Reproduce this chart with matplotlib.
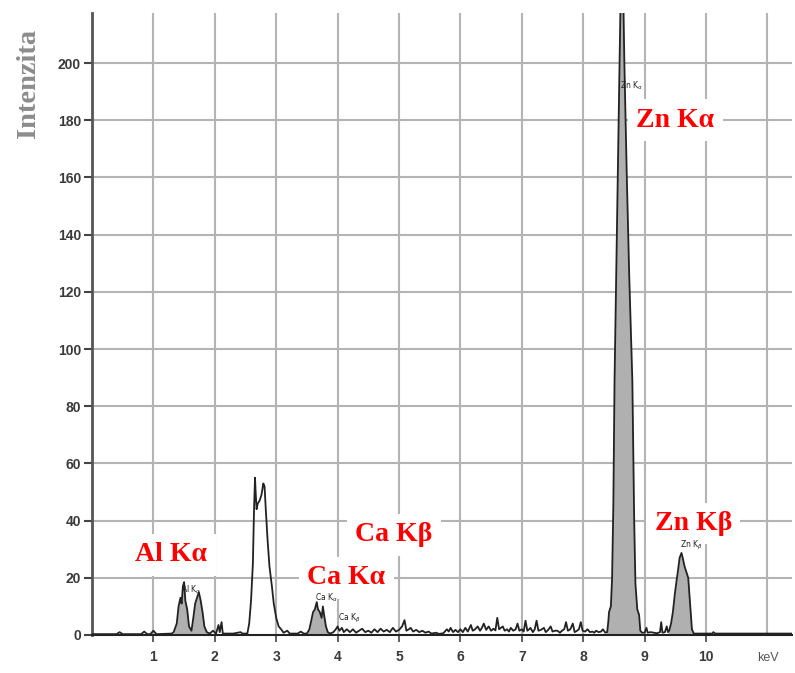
import matplotlib
matplotlib.use("Agg")
import matplotlib.pyplot as plt
import numpy as np

# EDS spectrum, energy (keV) vs counts
energy = [
    0.0, 0.4, 0.45, 0.5, 0.55, 0.8, 0.85, 0.9, 0.95, 1.0, 1.05, 1.3,
    # Al
    1.33, 1.38, 1.41, 1.44, 1.46, 1.48, 1.50, 1.52, 1.55, 1.58, 1.62, 1.65,
    1.68, 1.71, 1.74, 1.77, 1.80, 1.83, 1.87, 1.92, 1.97, 2.02, 2.06, 2.08,
    2.11, 2.13, 2.30, 2.42, 2.45,
    # doublet near 2.7 keV
    2.53, 2.56, 2.59, 2.62, 2.64, 2.655, 2.665, 2.68, 2.70, 2.73, 2.76, 2.79,
    2.81, 2.83, 2.86, 2.89, 2.93, 2.96, 3.00, 3.04, 3.08, 3.12, 3.18, 3.22,
    3.35, 3.40, 3.45,
    # Ca
    3.50, 3.54, 3.57, 3.60, 3.63, 3.66, 3.68, 3.71, 3.74, 3.76, 3.78, 3.81,
    3.84, 3.88, 3.93, 3.97, 4.00, 4.03, 4.07, 4.10, 4.15, 4.20, 4.25, 4.30,
    4.35, 4.40, 4.45, 4.50, 4.55, 4.60, 4.65, 4.70, 4.75, 4.80, 4.85, 4.90,
    4.95, 5.00, 5.05, 5.09, 5.12, 5.16, 5.19, 5.23, 5.28, 5.33, 5.38, 5.43,
    5.48, 5.53, 5.60, 5.65, 5.72, 5.78, 5.81, 5.84, 5.88, 5.92, 5.96, 6.00,
    6.04, 6.08, 6.12, 6.17, 6.20, 6.24, 6.28, 6.32, 6.35, 6.38, 6.42, 6.46,
    6.50, 6.54, 6.57, 6.60, 6.63, 6.66, 6.69, 6.72, 6.76, 6.79, 6.82, 6.86,
    6.90, 6.93, 6.96, 7.00, 7.03, 7.06, 7.09, 7.12, 7.14, 7.18, 7.21, 7.24,
    7.27, 7.31, 7.36, 7.39, 7.43, 7.47, 7.50, 7.54, 7.58, 7.62, 7.66, 7.69,
    7.72, 7.75, 7.79, 7.83, 7.86, 7.90, 7.93, 7.96, 7.99, 8.03, 8.07, 8.11,
    8.15, 8.18, 8.21, 8.25, 8.29, 8.32, 8.36,
    # Zn K-alpha
    8.39, 8.41, 8.42, 8.45, 8.47, 8.49, 8.51, 8.54, 8.57, 8.60, 8.62, 8.64,
    8.67, 8.71, 8.75, 8.80, 8.83, 8.85, 8.88, 8.91, 8.93, 8.96,
    9.00, 9.03, 9.05, 9.10, 9.20, 9.25, 9.27, 9.29, 9.33, 9.36, 9.38,
    # Zn K-beta
    9.40, 9.43, 9.46, 9.49, 9.52, 9.54, 9.57, 9.60, 9.62, 9.65, 9.68, 9.71,
    9.73, 9.75, 9.77, 9.80, 10.10, 10.12, 10.15, 11.4,
]
counts = [
    0.3, 0.3, 1.0, 0.3, 0.3, 0.3, 1.2, 0.3, 0.3, 1.5, 0.3, 0.5,
    1.0, 4, 10, 13, 11, 17, 18.5, 12, 9, 3, 1.5, 6,
    11, 13, 15, 12, 8, 3, 1, 0.5, 1.5, 0.5, 3.5, 1,
    4.5, 0.5, 0.5, 1.0, 0.5,
    0.5, 4, 12, 25, 45, 55, 50, 44, 46, 47, 49, 53,
    52, 44, 33, 24, 17, 11, 6, 3, 2, 0.8, 1.5, 0.5,
    0.5, 1.2, 0.5,
    0.5, 2, 5, 8, 9, 11.5, 9, 8, 6, 10, 7, 3,
    1, 0.5, 1, 2, 3, 1.5, 2.5, 1, 2, 1, 2, 0.8,
    1.5, 2.2, 1, 1.5, 0.8, 2, 1, 2.2, 1.2, 1.8, 1.0, 2.5,
    1.2, 1.8, 3, 5.2, 1.5, 2, 2.5, 1.2, 1.8, 1, 1.5, 0.8,
    1.2, 0.5, 0.8, 0.4, 0.6, 2, 1.2, 2.5, 1.0, 1.8, 1, 2,
    1, 2.5, 1.2, 3.5, 1.5, 2, 3, 1.5, 2.5, 4, 1.8, 3,
    1.5, 2.2, 1.6, 6, 2, 2.5, 3, 1.5, 2, 1.2, 2.5, 1.5,
    2, 4, 1.5, 2, 1.2, 5, 1.5, 2, 2.5, 1, 2, 5,
    1.5, 1.8, 2.5, 1, 1.8, 3, 1.2, 1.5, 1.5, 0.8, 1.6, 2,
    4.5, 1.5, 2, 4, 1, 1.5, 2, 4.5, 1.5, 1.2, 2, 1,
    1.2, 0.8, 1.5, 1, 1.2, 2, 0.8,
    1, 5, 8, 10, 20, 45, 89, 130, 170, 210, 240, 240,
    200, 160, 125, 89, 40, 18, 9, 7, 1.5, 0.8,
    0.8, 2.5, 0.8, 1, 0.6, 1, 4.5, 0.8, 1, 3, 1,
    1.5, 4, 8, 14, 19, 22, 27, 28.7, 27, 24, 22, 20,
    14, 8, 2, 0.5, 0.5, 1, 0.5, 0.5,
]

# energy ranges of the shaded peaks
shaded = [(1.33, 1.92), (3.50, 3.88), (8.38, 8.96), (9.38, 9.80)]

# big red peak names: text, keV, counts
peak_names = ["Zn Kα", "Zn Kβ", "Ca Kβ", "Ca Kα", "Al Kα"]
name_x = [9.50, 9.79, 4.92, 4.14, 1.29]
name_y = [180, 39, 35, 20, 28]

# small labels printed by the instrument
tag_text = [r"Al K$_\alpha$", r"Ca K$_\alpha$", r"Ca K$_\beta$",
            r"Zn K$_\alpha$", r"Zn K$_\beta$"]
tag_x = [1.45, 3.63, 4.0, 8.6, 9.58]
tag_y = [13.5, 11, 3.5, 190, 29]

yticks = list(range(0, 201, 20))
xticks = list(range(1, 11))

fig = plt.figure(figsize=(7.95, 6.73), dpi=100)
ax = fig.add_axes([92 / 795, 1 - 635 / 673, (792 - 92) / 795, (635 - 13) / 673])

e = np.array(energy)
c = np.array(counts)

for lo, hi in shaded:
    m = (e >= lo) & (e <= hi)
    ax.fill_between(e[m], 0, c[m], color="#b0b0b0", zorder=2, linewidth=0)
ax.plot(e, c, color="#222222", lw=1.3, zorder=3)

ax.set_xlim(0, 11.4)
ax.set_ylim(0, 217.5)

# grid
for v in yticks[1:]:
    ax.axhline(v, color="#b4b4b4", lw=1.5, zorder=1)
for v in range(1, 12):
    ax.axvline(v, color="#b4b4b4", lw=1.5, zorder=1)

for s in ["top", "right"]:
    ax.spines[s].set_visible(False)
ax.spines["left"].set_color("#555555")
ax.spines["left"].set_linewidth(2)
ax.spines["bottom"].set_color("#222222")
ax.spines["bottom"].set_linewidth(1.5)

ax.set_yticks(yticks)
ax.set_yticklabels([str(v) for v in yticks])
ax.set_xticks(xticks)
ax.set_xticklabels([str(v) for v in xticks])
ax.tick_params(axis="y", direction="out", length=6, width=1.5,
               color="#444444", pad=2)
ax.tick_params(axis="x", direction="out", length=5, width=1.2,
               color="#444444", pad=6)
for lab in ax.get_xticklabels() + ax.get_yticklabels():
    lab.set_family(["Liberation Sans", "DejaVu Sans"])
    lab.set_fontweight("bold")
    lab.set_fontsize(10)
    lab.set_color("#3a3a3a")

ax.text(11.0, -0.028, "keV", transform=ax.get_xaxis_transform(),
        ha="center", va="top", fontsize=9, color="#555555",
        family=["Liberation Sans", "DejaVu Sans"])

fig.text(28 / 795, 1 - 83 / 673, "Intenzita", rotation=90,
         ha="center", va="center", fontsize=20.5, fontweight="bold",
         color="#8c8c8c", family=["Liberation Serif", "DejaVu Serif"])

for t, x, y in zip(peak_names, name_x, name_y):
    ax.text(x, y, t, ha="center", va="center", fontsize=20,
            fontweight="bold", color="#ff0000",
            family=["Liberation Serif", "DejaVu Serif"], zorder=4,
            bbox=dict(facecolor="white", edgecolor="none", pad=6))

for t, x, y in zip(tag_text, tag_x, tag_y):
    ax.text(x, y, t, ha="left", va="bottom", fontsize=5.5, color="#222222",
            zorder=5)

fig.savefig("out.png", dpi=100)
